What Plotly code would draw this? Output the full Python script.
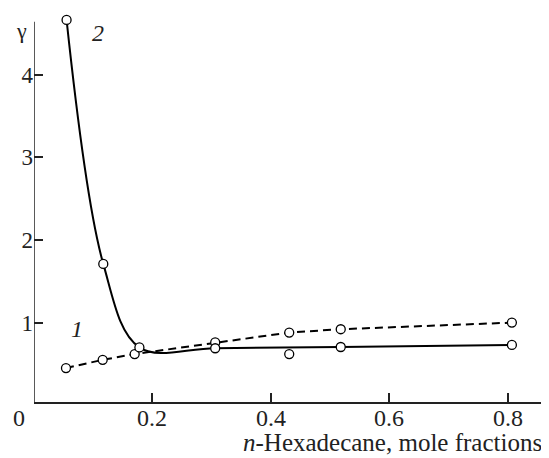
import plotly.graph_objects as go

# Series 1 (dashed)
x1 = [0.054, 0.116, 0.170, 0.306, 0.431, 0.518, 0.807]
y1 = [0.45, 0.55, 0.62, 0.76, 0.88, 0.92, 1.00]

# Series 2 (solid, smooth curve)
x2 = [0.055, 0.117, 0.178, 0.306, 0.431, 0.518, 0.807]
y2 = [4.66, 1.71, 0.70, 0.69, 0.62, 0.705, 0.73]
on_curve2 = [True, True, True, True, False, True, True]

x_ticks = [0.2, 0.4, 0.6, 0.8]
x_tick_labels = ["0.2", "0.4", "0.6", "0.8"]
y_ticks = [1, 2, 3, 4]
y_tick_labels = ["1", "2", "3", "4"]

X_RANGE = [0, 0.868]
Y_RANGE = [0.04, 4.72]
Y_AXIS_TOP = 4.637

FONT = "Liberation Serif"
INK = "#222"

fig = go.Figure()

cx = [x for x, f in zip(x2, on_curve2) if f]
cy = [y for y, f in zip(y2, on_curve2) if f]

fig.add_trace(go.Scatter(x=x1, y=y1, mode="lines",
                         line=dict(color="black", width=2, dash="8px,5px"),
                         hoverinfo="skip"))
fig.add_trace(go.Scatter(x=cx, y=cy, mode="lines",
                         line=dict(color="black", width=2, shape="spline", smoothing=1.0),
                         hoverinfo="skip"))
marker = dict(symbol="circle", size=9, color="white", line=dict(color="black", width=1.3))
fig.add_trace(go.Scatter(x=x1, y=y1, mode="markers", marker=marker, cliponaxis=False))
fig.add_trace(go.Scatter(x=x2, y=y2, mode="markers", marker=marker, cliponaxis=False))

annotations = [
    dict(text="<i>n</i>-Hexadecane, mole fractions", xref="paper", yref="paper",
         x=0.993, y=-0.104, xanchor="right", yanchor="middle", showarrow=False,
         font=dict(family=FONT, size=25, color=INK)),
    dict(text="0", xref="paper", yref="paper", x=-0.029, y=-0.042,
         xanchor="center", yanchor="middle", showarrow=False,
         font=dict(family=FONT, size=24, color=INK)),
    dict(text="γ", xref="paper", yref="paper", x=-0.025, y=0.961,
         xanchor="center", yanchor="middle", showarrow=False,
         font=dict(family=FONT, size=22, color=INK)),
    dict(text="<i>2</i>", xref="x", yref="y", x=0.108, y=4.50,
         xanchor="center", yanchor="middle", showarrow=False,
         font=dict(family=FONT, size=24, color=INK)),
    dict(text="<i>1</i>", xref="x", yref="y", x=0.072, y=0.92,
         xanchor="center", yanchor="middle", showarrow=False,
         font=dict(family=FONT, size=24, color=INK)),
]
for v, t in zip(x_ticks, x_tick_labels):
    annotations.append(dict(text=t, xref="x", yref="paper", x=v, y=-0.042,
                            xanchor="center", yanchor="middle", showarrow=False,
                            font=dict(family=FONT, size=24, color=INK)))

fig.update_layout(
    width=541, height=450,
    margin=dict(l=26, r=1, t=7, b=56),
    plot_bgcolor="white", paper_bgcolor="white",
    showlegend=False,
    font=dict(family=FONT, size=24, color=INK),
    xaxis=dict(range=X_RANGE, showgrid=False, zeroline=False,
               showline=True, linecolor=INK, linewidth=1.5,
               ticks="inside", ticklen=9, tickwidth=1.5, tickcolor=INK,
               tickvals=x_ticks, showticklabels=False),
    yaxis=dict(range=Y_RANGE, showgrid=False, zeroline=False,
               showline=False,
               ticks="inside", ticklen=9, tickwidth=1.5, tickcolor=INK,
               tickvals=y_ticks, ticktext=y_tick_labels,
               tickfont=dict(family=FONT, size=23, color=INK)),
    shapes=[dict(type="line", xref="x", yref="y", x0=X_RANGE[0], x1=X_RANGE[0],
                 y0=Y_RANGE[0], y1=Y_AXIS_TOP, line=dict(color=INK, width=1.5))],
    annotations=annotations,
)

fig.write_html("out.html")
